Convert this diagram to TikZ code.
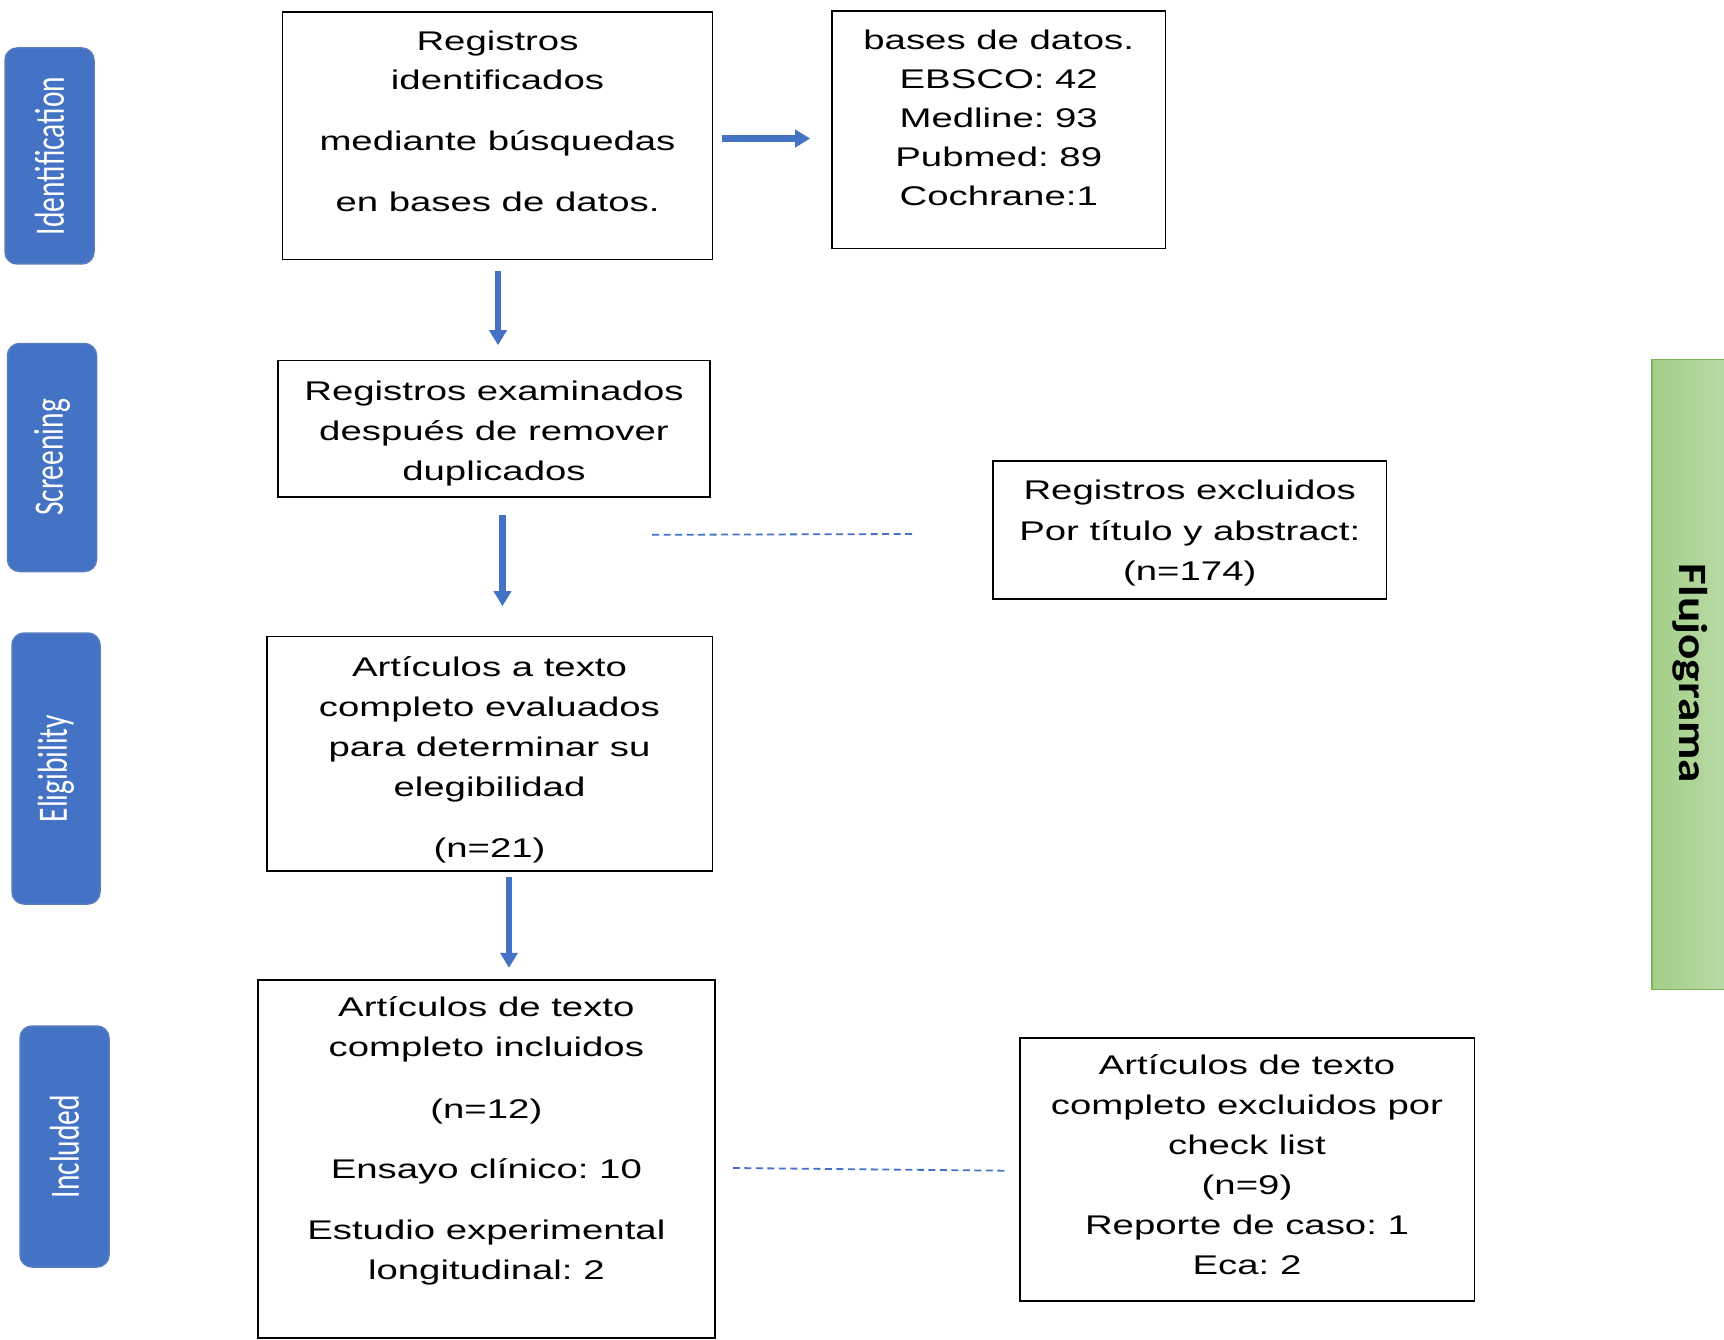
\documentclass[tikz,border=0pt]{standalone}
\usepackage{fontspec}
\setmainfont{Liberation Sans}
\newfontfamily\tabfont{Carlito}
\usepackage{graphicx}
\usetikzlibrary{arrows.meta}
\definecolor{tabblue}{HTML}{4472C4}
\definecolor{tabedge}{RGB}{88,124,190}
\definecolor{gleft}{RGB}{163,206,135}
\definecolor{gright}{RGB}{186,218,167}
\definecolor{gedge}{RGB}{120,180,90}
\frenchspacing
\newcommand\boxtext[2][39.5pt]{\scalebox{1.42}[1]{\fontsize{27pt}{#1}\selectfont\begin{tabular}[t]{@{}c@{}}#2\end{tabular}}}
\newcommand\tabtext[1]{\scalebox{1.42}[1]{\rotatebox{90}{\tabfont\fontsize{29.5pt}{30pt}\selectfont #1}}}
\tikzset{
  box/.style={draw=black, line width=1.6pt, inner sep=0pt},
  txt/.style={inner sep=0pt, anchor=base},
  tabbox/.style={fill=tabblue, draw=tabedge, line width=1.5pt, rounded corners=12pt, inner sep=0pt, text=white},
  arr/.style={draw=tabblue, line width=6.5pt, -{Triangle[width=17pt,length=15pt]}},
  dsh/.style={draw=tabblue, line width=1.8pt, dash pattern=on 7pt off 4.5pt},
}
\begin{document}
\begin{tikzpicture}[x=1pt,y=-1pt]
\useasboundingbox (0,0) rectangle (1724,1340);

% side tabs
\node[tabbox, minimum width=89pt, minimum height=216pt] (tab1) at (49.5,156) {\tabtext{Identification}};
\node[tabbox, minimum width=89pt, minimum height=228pt] (tab2) at (52,457.5) {\tabtext{Screening}};
\node[tabbox, minimum width=88pt, minimum height=271pt] (tab3) at (56,768.5) {\tabtext{Eligibility}};
\node[tabbox, minimum width=89pt, minimum height=241pt] (tab4) at (64.5,1146.5) {\tabtext{Included}};

% green bar
\node[draw=gedge, line width=1.5pt, left color=gleft, right color=gright, minimum width=80pt, minimum height=630pt, inner sep=0pt] (fl) at (1692,674.5) {};
\node[inner sep=0pt] (flt) at (1690.5,673.5) {\resizebox*{35pt}{219pt}{\rotatebox{-90}{\tabfont\bfseries Flujograma}}};

% boxes
\node[box, minimum width=430pt, minimum height=247.5pt] (b1) at (497.5,135.75) {};
\node[box, minimum width=333.5pt, minimum height=237.5pt] (b2) at (998.75,129.75) {};
\node[box, minimum width=432pt, minimum height=136.4pt] (b3) at (494,428.8) {};
\node[box, minimum width=393.5pt, minimum height=138.3pt] (b4) at (1189.75,529.85) {};
\node[box, minimum width=445.5pt, minimum height=234.2pt] (b5) at (489.75,753.7) {};
\node[box, minimum width=456.7pt, minimum height=358.3pt] (b6) at (486.35,1158.85) {};
\node[box, minimum width=454.4pt, minimum height=262.7pt] (b7) at (1247.2,1169.35) {};

% texts
\node[txt] (t1) at (497.5,50.2) {\boxtext{Registros\\identificados\\[21.5pt]mediante búsquedas\\[21.5pt]en bases de datos.}};
\node[txt] (t2) at (998.75,49.5) {\boxtext[39pt]{bases de datos.\\EBSCO: 42\\Medline: 93\\Pubmed: 89\\Cochrane:1}};
\node[txt] (t3) at (494,400.5) {\boxtext[40pt]{Registros examinados\\después de remover\\duplicados}};
\node[txt] (t4) at (1189.75,499.5) {\boxtext[40.5pt]{Registros excluidos\\Por título y abstract:\\(n=174)}};
\node[txt] (t5) at (489.5,676.5) {\boxtext[40pt]{Artículos a texto\\completo evaluados\\para determinar su\\elegibilidad\\[20.5pt](n=21)}};
\node[txt] (t6) at (486.35,1016) {\boxtext[40pt]{Artículos de texto\\completo incluidos\\[22pt](n=12)\\[20.5pt]Ensayo clínico: 10\\[20.7pt]Estudio experimental\\longitudinal: 2}};
\node[txt] (t7) at (1247,1074) {\boxtext[40pt]{Artículos de texto\\completo excluidos por\\check list\\(n=9)\\Reporte de caso: 1\\Eca: 2}};

% arrows
\draw[arr] ([shift={(8.5,2.75)}]b1.east) -- ([shift={(-21,8.75)}]b2.west);
\draw[arr] ([shift={(0.5,10.5)}]b1.south) -- ([shift={(4,-14.6)}]b3.north);
\draw[arr] ([shift={(8.5,17.6)}]b3.south) -- ([shift={(12.75,-29.6)}]b5.north);
\draw[arr] ([shift={(19.25,5.2)}]b5.south) -- ([shift={(22.65,-11.1)}]b6.north);

% dashed connectors
\draw[dsh] ([shift={(158,37)}]b3.south) -- ([shift={(-76,4.15)}]b4.west);
\draw[dsh] ([shift={(17.3,9.15)}]b6.east) -- ([shift={(-13,1.35)}]b7.west);
\end{tikzpicture}
\end{document}
